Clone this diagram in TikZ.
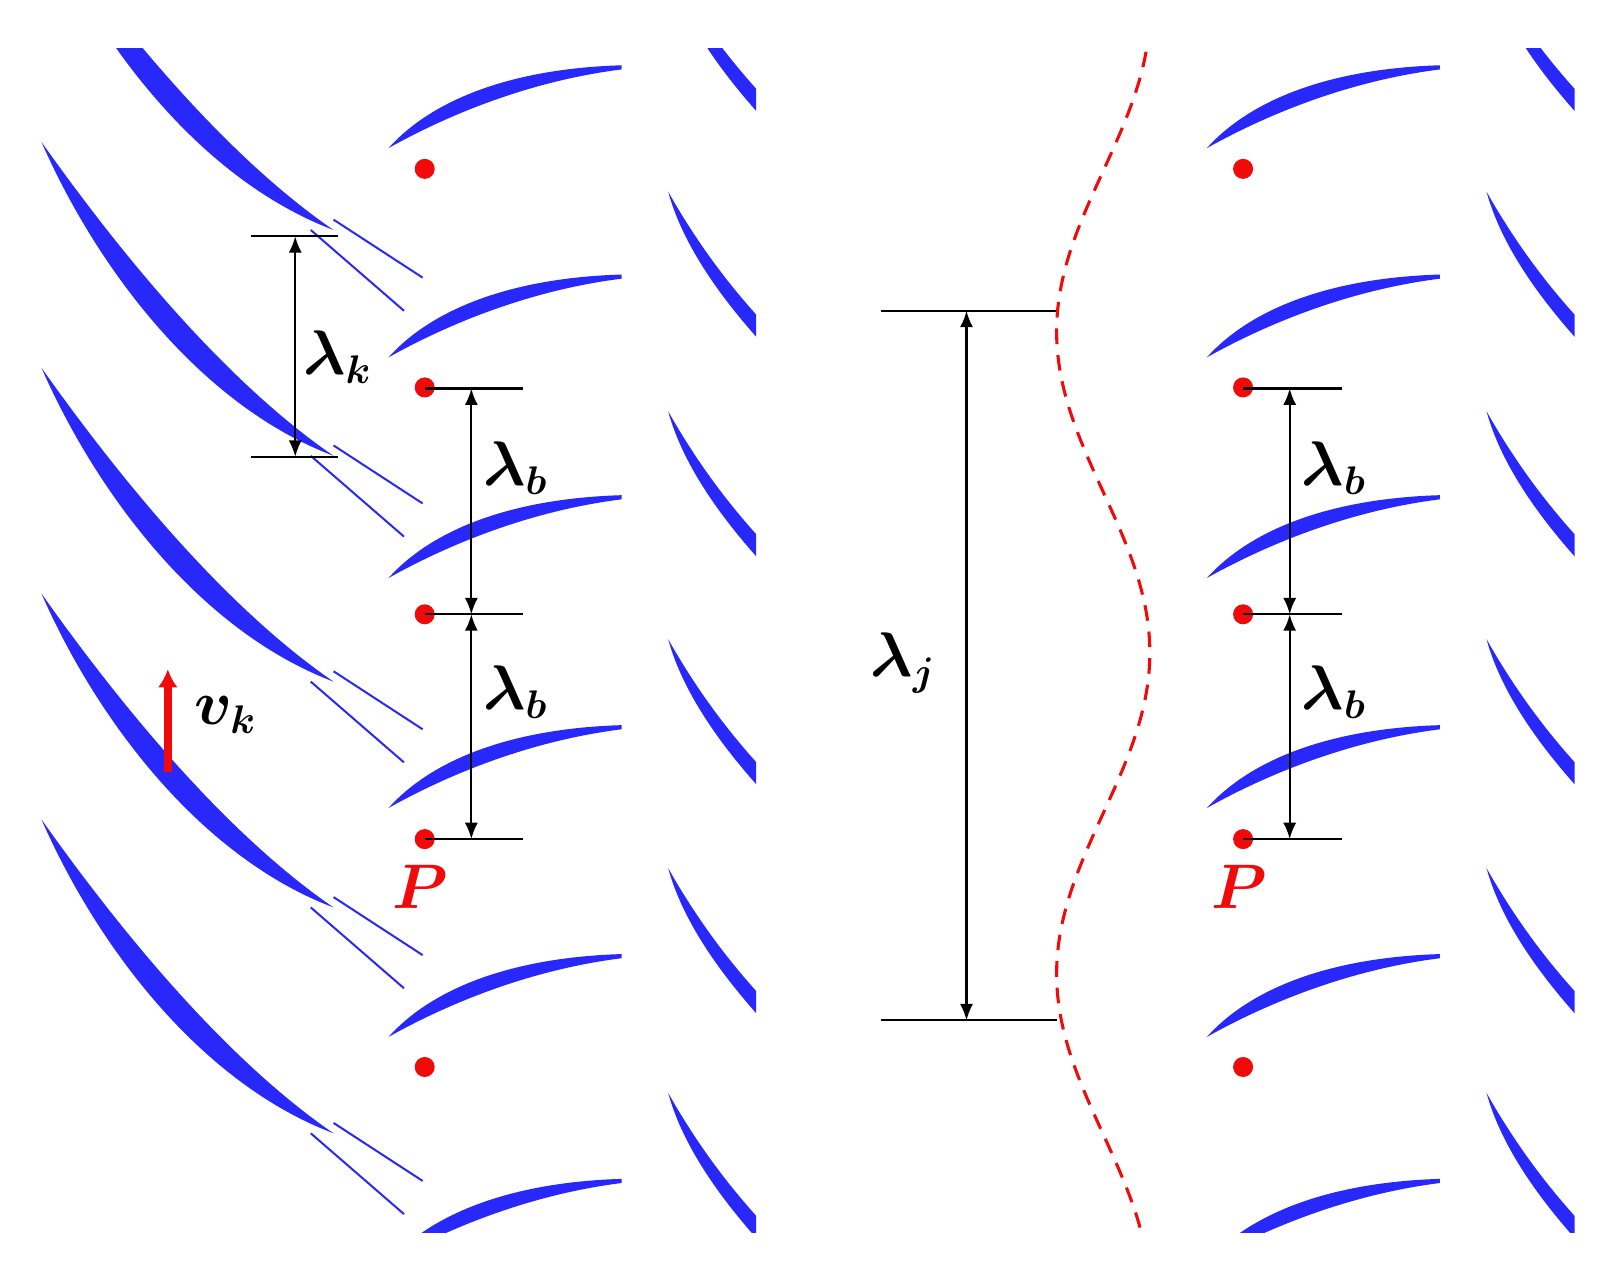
\documentclass[tikz,border=0pt]{standalone}
\usepackage{bm}
\usetikzlibrary{arrows.meta}
\definecolor{bl}{RGB}{40,40,250}
\definecolor{rd}{RGB}{240,10,10}
\begin{document}
\begin{tikzpicture}[x=0.01cm,y=-0.01cm,
  dim/.style={line width=0.6pt},
  dar/.style={line width=0.6pt,{Latex[length=4.5pt,width=3.6pt]}-{Latex[length=4.5pt,width=3.6pt]}},
  lab/.style={font=\fontsize{16}{19}\selectfont,inner sep=0pt},
  dot/.style={circle,fill=rd,inner sep=0pt,minimum size=5.5pt},
  wake/.style={bl,line width=0.55pt},
  rotor/.pic={\fill[bl] (375,80) .. controls (420,30) and (500,3) .. (600,0)
     -- (600,4) .. controls (505,16) and (425,52) .. cycle;},
  shortb/.pic={\fill[bl] (645,0) .. controls (680,62) and (720,112) .. (770,160)
     -- (770,182) .. controls (712,125) and (662,62) .. cycle;}]
\useasboundingbox (0,0) rectangle (1560,1232);
% ---------- left panel ----------
\begin{scope}
\clip (0,47) rectangle (730,1190);
\foreach \t in {4,222,440,658,876,1094}{
  \begin{scope}[shift={(0,\t)}]
  \fill[bl] (40,-303) .. controls (120,-190) and (220,-70) .. (322,0)
     .. controls (195,-48) and (95,-178) .. cycle;
  \end{scope}}
\foreach \t in {222,440,658,876,1094}{
  \begin{scope}[shift={(0,\t)}]
  \draw[wake] (322,-10) -- (408,46);
  \draw[wake] (300,0) -- (390,78);
  \end{scope}}
\foreach \t in {63,265,478,700,921,1138}{ \pic[shift={(0,\t)}] {rotor}; }
\foreach \t in {-33,185,397,617,838,1055}{ \pic[shift={(0,\t)}] {shortb}; }
\end{scope}
% ---------- right panel ----------
\begin{scope}
\clip (1150,47) rectangle (1520,1190);
\foreach \t in {63,265,478,700,921,1138}{ \pic[shift={(790,\t)}] {rotor}; }
\foreach \t in {-33,185,397,617,838,1055}{ \pic[shift={(790,\t)}] {shortb}; }
\end{scope}
% ---------- dots ----------
\foreach \y [count=\i] in {163,374,593,810,1030}{
  \node[dot] (dl\i) at (410,\y) {};
  \node[dot] (dr\i) at (1200,\y) {};}
\node[lab,text=rd] (pl) at (406,856) {$\bm{P}$};
\node[lab,text=rd] (pr) at (1196,856) {$\bm{P}$};
% ---------- lambda_k ----------
\coordinate (k1a) at (242,228); \coordinate (k1b) at (326,228);
\coordinate (k2a) at (242,441); \coordinate (k2b) at (326,441);
\draw[dim] (k1a) -- (k1b); \draw[dim] (k2a) -- (k2b);
\coordinate (k1) at (285,228); \coordinate (k2) at (285,441);
\draw[dar] (k1) -- (k2);
\node[lab] (lk) at (326,345) {$\bm{\lambda_k}$};
% ---------- lambda_b ----------
\foreach \dx/\s in {0/l,790/r}{
  \foreach \y/\n in {375/1,593/2,810/3}{
    \coordinate (b\s\n a) at (410+\dx,\y); \coordinate (b\s\n b) at (505+\dx,\y);
    \draw[dim] (b\s\n a) -- (b\s\n b);
    \coordinate (b\s\n) at (455+\dx,\y);}
  \draw[dar] (b\s1) -- (b\s2);
  \draw[dar] (b\s2) -- (b\s3);
  \node[lab] (lb\s1) at (498+\dx,452) {$\bm{\lambda_b}$};
  \node[lab] (lb\s2) at (498+\dx,668) {$\bm{\lambda_b}$};}
% ---------- lambda_j ----------
\coordinate (j1a) at (850,300); \coordinate (j1b) at (1020,300);
\coordinate (j2a) at (850,985); \coordinate (j2b) at (1020,985);
\draw[dim] (j1a) -- (j1b); \draw[dim] (j2a) -- (j2b);
\coordinate (j1) at (933,300); \coordinate (j2) at (933,985);
\draw[dar] (j1) -- (j2);
\node[lab] (lj) at (872,640) {$\bm{\lambda_j}$};
% ---------- wave ----------
\draw[rd,line width=0.85pt,dash pattern=on 4.3pt off 3pt]
  plot[domain=50:1190,samples=120,smooth] ({1065+45*cos(0.5806*(\x-630))},\x);
% ---------- v_k ----------
\coordinate (v1) at (162,745); \coordinate (v2) at (162,646);
\draw[rd,line width=2.2pt,-{Latex[length=5pt,width=5.5pt]}] (v1) -- (v2);
\node[lab] (lv) at (218,690) {$\bm{v_k}$};
\end{tikzpicture}
\end{document}
